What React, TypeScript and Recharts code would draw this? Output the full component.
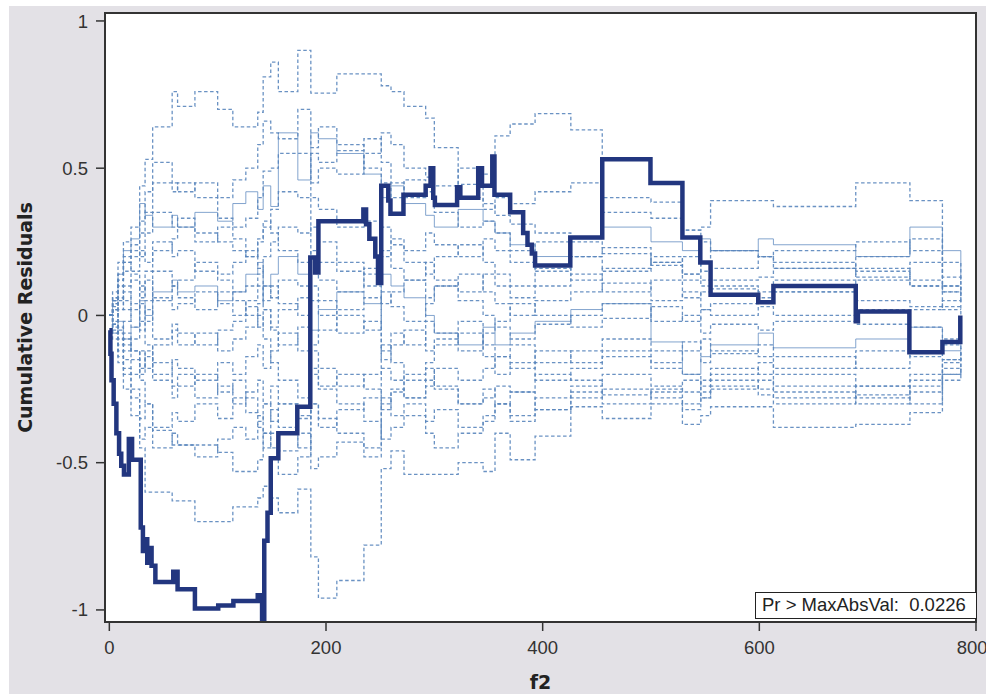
import React from 'react';
import { LineChart, Line, XAxis, YAxis } from 'recharts';

// observed cumulative residual process
const f2 = [
  0, 1, 2, 4, 6.5, 9, 11, 13.5, 18, 21, 29, 31, 33, 35, 37, 39, 42.5, 59, 63, 79,
  100.5, 114.5, 137, 141, 143, 146, 149, 156, 173.5, 185.5, 190, 193, 234.5, 237, 240,
  245.5, 248, 251, 257.5, 259.5, 271.5, 292, 296.5, 299, 300.5, 321, 324, 340.5, 344,
  353.5, 355.5, 370, 382, 386, 390, 393, 425.5, 455, 499.5, 529, 545.5, 555, 599, 613,
  689, 691, 738.5, 769, 785.5,
];
const observed = [
  -0.05, -0.13, -0.22, -0.3, -0.4, -0.47, -0.51, -0.54, -0.42, -0.49, -0.72, -0.8, -0.76,
  -0.84, -0.79, -0.85, -0.905, -0.87, -0.93, -0.995, -0.985, -0.97, -0.95, -1.035, -0.765,
  -0.67, -0.485, -0.4, -0.31, 0.197, 0.146, 0.32, 0.36, 0.31, 0.26, 0.2, 0.11, 0.44, 0.39,
  0.345, 0.41, 0.44, 0.5, 0.4, 0.375, 0.435, 0.4, 0.5, 0.44, 0.54, 0.41, 0.35, 0.28, 0.24,
  0.21, 0.17, 0.265, 0.53, 0.45, 0.265, 0.18, 0.07, 0.045, 0.1, -0.02, 0.013, -0.125,
  -0.09, 0,
];

// simulated paths, all on the same f2 grid
const simF2 = [
  0, 3, 8, 13, 20, 28, 33, 40, 58, 63, 79, 100, 114, 126, 137, 142, 149, 156, 174, 186,
  193, 210, 235, 251, 260, 272, 292, 300, 322, 345, 356, 370, 393, 426, 455, 500, 529,
  546, 555, 599, 613, 689, 739, 769, 786,
];
const sim01 = [0, 0.08, 0.18, 0.25, 0.3, 0.44, 0.53, 0.64, 0.76, 0.71, 0.76, 0.7, 0.64, 0.64, 0.69, 0.81, 0.86, 0.76, 0.9, 0.755, 0.755, 0.82, 0.82, 0.78, 0.76, 0.71, 0.67, 0.57, 0.445, 0.38, 0.34, 0.31, 0.28, 0.25, 0.21, 0.17, 0.12, 0.1, 0.09, 0.06, 0.08, 0.05, 0.03, 0.02, 0.02];
const sim02 = [0, 0.04, 0.12, 0.2, 0.24, 0.32, 0.42, 0.52, 0.42, 0.45, 0.4, 0.33, 0.3, 0.33, 0.4, 0.49, 0.5, 0.55, 0.55, 0.45, 0.5, 0.48, 0.55, 0.62, 0.58, 0.5, 0.47, 0.44, 0.5, 0.48, 0.61, 0.65, 0.685, 0.63, 0.4, 0.385, 0.29, 0.25, 0.22, 0.2, 0.18, 0.15, 0.1, 0.08, 0.05];
const sim03 = [0, 0.06, 0.14, 0.18, 0.22, 0.2, 0.28, 0.35, 0.3, 0.33, 0.28, 0.25, 0.22, 0.2, 0.26, 0.3, 0.36, 0.42, 0.4, 0.55, 0.52, 0.56, 0.6, 0.52, 0.45, 0.4, 0.44, 0.38, 0.4, 0.36, 0.4, 0.38, 0.42, 0.45, 0.35, 0.33, 0.29, 0.3, 0.39, 0.39, 0.37, 0.45, 0.39, 0.13, 0.1];
const sim04 = [0, 0.05, 0.1, 0.15, 0.2, 0.28, 0.35, 0.45, 0.45, 0.42, 0.45, 0.4, 0.46, 0.5, 0.58, 0.66, 0.62, 0.6, 0.7, 0.57, 0.64, 0.58, 0.5, 0.45, 0.4, 0.46, 0.42, 0.35, 0.3, 0.32, 0.28, 0.22, 0.25, 0.2, 0.15, 0.18, 0.14, 0.12, 0.16, 0.2, 0.22, 0.25, 0.22, 0.18, 0.08];
const sim05 = [0, 0.05, 0.14, 0.22, 0.26, 0.38, 0.34, 0.3, 0.34, 0.3, 0.35, 0.32, 0.38, 0.42, 0.36, 0.44, 0.37, 0.62, 0.46, 0.62, 0.6, 0.55, 0.48, 0.4, 0.44, 0.38, 0.34, 0.3, 0.36, 0.32, 0.28, 0.24, 0.2, 0.26, 0.3, 0.25, 0.22, 0.26, 0.22, 0.26, 0.24, 0.2, 0.3, 0.22, 0.12];
const sim06 = [0, 0.05, 0.12, 0.18, 0.15, 0.22, 0.18, 0.25, 0.2, 0.22, 0.15, 0.12, 0.08, 0.1, 0.14, 0.2, 0.25, 0.3, 0.28, 0.4, 0.36, 0.3, 0.32, 0.2, 0.26, 0.22, 0.28, 0.24, 0.2, 0.26, 0.22, 0.18, 0.15, 0.2, 0.23, 0.18, 0.2, 0.15, 0.12, 0.13, 0.16, 0.2, 0.26, 0.1, 0.06];
const sim07 = [0, -0.02, 0.05, 0.1, 0.14, 0.08, 0.12, 0.05, 0.1, 0.06, 0.02, 0.08, 0.05, 0, 0.04, 0.1, 0.06, 0.12, 0.1, 0.22, 0.18, 0.15, 0.1, 0.04, 0.08, 0.12, 0.06, 0.1, 0.14, 0.08, 0.04, 0, 0.05, 0.08, 0.11, 0.05, 0.08, 0.02, 0.04, 0.05, 0.08, 0.12, 0.1, 0.03, 0.02];
const sim08 = [0, 0.03, -0.05, -0.02, 0.04, -0.05, 0.02, -0.08, -0.03, -0.06, -0.1, -0.05, -0.02, 0.03, -0.04, 0.02, -0.05, -0.1, -0.04, 0.1, 0.05, 0, -0.05, 0.08, 0.03, -0.02, 0.04, 0.1, 0.05, 0, -0.04, -0.08, -0.03, 0, 0.04, -0.02, 0, -0.06, -0.03, -0.05, -0.02, 0.02, -0.04, -0.08, -0.05];
const sim09 = [0, -0.04, -0.1, -0.06, -0.12, -0.18, -0.12, -0.2, -0.15, -0.18, -0.22, -0.16, -0.2, -0.14, -0.1, -0.18, -0.12, -0.06, -0.12, 0.05, 0, -0.06, -0.02, -0.15, -0.1, -0.05, -0.12, -0.08, -0.02, -0.1, -0.14, -0.1, -0.16, -0.12, -0.08, -0.12, -0.09, -0.16, -0.13, -0.1, -0.14, -0.18, -0.12, -0.15, -0.1];
const sim10 = [0, 0.06, 0.02, 0.08, 0.02, 0.1, 0.05, 0.15, 0.1, 0.12, 0.18, 0.14, 0.18, 0.22, 0.16, 0.05, 0.1, 0.04, 0, -0.1, -0.05, 0.02, 0.06, -0.12, -0.06, -0.1, -0.02, -0.06, -0.12, -0.06, -0.02, 0.04, 0, -0.04, -0.01, 0.03, -0.02, 0.02, 0, 0.03, 0, -0.03, 0.02, 0.05, 0];
const sim11 = [0, -0.06, -0.02, -0.08, -0.04, 0.05, 0, 0.08, 0.12, 0.08, 0.1, 0.05, 0.08, 0.14, 0.18, 0.1, 0.14, 0.2, 0.14, -0.05, 0.02, 0.08, 0.04, 0.14, 0.1, 0.06, 0, -0.06, -0.1, -0.04, -0.1, -0.06, -0.02, 0.02, 0.04, -0.09, -0.2, -0.14, -0.1, -0.06, -0.11, -0.08, -0.04, -0.12, -0.08];
const sim12 = [0, 0.02, -0.08, -0.15, -0.2, -0.12, -0.18, -0.1, -0.05, -0.1, -0.06, -0.12, -0.08, -0.04, 0, -0.08, -0.16, -0.22, -0.28, -0.18, -0.24, -0.2, -0.25, -0.32, -0.26, -0.2, -0.16, -0.1, -0.06, -0.14, -0.2, -0.16, -0.22, -0.18, -0.14, -0.18, -0.2, -0.24, -0.2, -0.16, -0.2, -0.24, -0.2, -0.16, -0.11];
const sim13 = [0, 0.04, 0.1, 0.05, 0.12, 0.06, 0.15, 0.22, 0.26, 0.3, 0.25, 0.3, 0.26, 0.2, 0.25, 0.32, 0.28, 0.22, 0.18, 0.3, 0.25, 0.18, 0.14, 0.22, 0.16, 0.12, 0.18, 0.12, 0.08, 0.14, 0.1, 0.06, 0.1, 0.14, 0.08, 0.12, 0.06, 0.08, 0.1, 0.08, 0.12, 0.16, 0.12, 0.08, 0.04];
const sim14 = [0, -0.03, -0.06, -0.12, -0.08, -0.02, -0.1, -0.16, -0.24, -0.2, -0.28, -0.24, -0.3, -0.26, -0.22, -0.3, -0.24, -0.3, -0.34, -0.12, -0.18, -0.24, -0.2, -0.1, -0.16, -0.22, -0.18, -0.24, -0.3, -0.25, -0.3, -0.26, -0.32, -0.28, -0.25, -0.28, -0.3, -0.26, -0.22, -0.25, -0.28, -0.24, -0.26, -0.2, -0.14];
const sim15 = [0, 0.02, 0.06, 0.02, -0.04, 0.04, -0.02, 0.06, 0.02, 0.04, 0.08, 0.04, 0, 0.05, 0.1, 0.02, -0.04, 0.02, 0.06, 0.18, 0.12, 0.08, 0.16, 0.3, 0.24, 0.18, 0.14, 0.2, 0.24, 0.18, 0.14, 0.1, 0.16, 0.12, 0.16, 0.2, 0.14, 0.18, 0.22, 0.2, 0.16, 0.13, 0.18, 0.1, 0.08];
const sim16 = [0, -0.05, -0.12, -0.18, -0.25, -0.45, -0.6, -0.6, -0.63, -0.63, -0.7, -0.7, -0.65, -0.65, -0.62, -0.58, -0.62, -0.67, -0.59, -0.82, -0.96, -0.9, -0.78, -0.52, -0.46, -0.54, -0.54, -0.54, -0.5, -0.53, -0.4, -0.49, -0.41, -0.31, -0.35, -0.3, -0.37, -0.34, -0.31, -0.31, -0.38, -0.37, -0.33, -0.2, -0.18];
const sim17 = [0, -0.03, -0.08, -0.1, -0.15, -0.22, -0.3, -0.39, -0.44, -0.44, -0.44, -0.465, -0.53, -0.53, -0.49, -0.4, -0.45, -0.54, -0.48, -0.3, -0.35, -0.4, -0.45, -0.3, -0.25, -0.28, -0.22, -0.25, -0.3, -0.28, -0.24, -0.26, -0.2, -0.22, -0.27, -0.25, -0.22, -0.28, -0.25, -0.22, -0.26, -0.3, -0.24, -0.15, -0.12];
const sim18 = [0, -0.06, -0.14, -0.2, -0.28, -0.35, -0.3, -0.38, -0.33, -0.36, -0.3, -0.35, -0.28, -0.33, -0.38, -0.45, -0.4, -0.46, -0.4, -0.52, -0.48, -0.43, -0.48, -0.28, -0.34, -0.3, -0.36, -0.32, -0.38, -0.34, -0.3, -0.36, -0.32, -0.26, -0.3, -0.26, -0.32, -0.28, -0.24, -0.27, -0.3, -0.27, -0.3, -0.22, -0.18];
const sim19 = [0, -0.08, -0.16, -0.25, -0.34, -0.42, -0.38, -0.45, -0.4, -0.44, -0.48, -0.42, -0.38, -0.42, -0.36, -0.3, -0.36, -0.3, -0.35, -0.2, -0.25, -0.3, -0.36, -0.42, -0.38, -0.34, -0.4, -0.45, -0.4, -0.36, -0.3, -0.34, -0.28, -0.24, -0.2, -0.24, -0.26, -0.22, -0.18, -0.2, -0.24, -0.28, -0.22, -0.18, -0.16];
const sim20 = [0, 0.02, -0.04, -0.08, -0.12, -0.2, -0.14, -0.22, -0.28, -0.24, -0.2, -0.26, -0.22, -0.28, -0.34, -0.4, -0.32, -0.38, -0.45, -0.3, -0.38, -0.32, -0.28, -0.18, -0.22, -0.28, -0.24, -0.18, -0.22, -0.18, -0.14, -0.18, -0.12, -0.16, -0.12, -0.16, -0.12, -0.08, -0.12, -0.14, -0.18, -0.12, -0.14, -0.1, -0.08];

const simulated = [
  sim01, sim02, sim03, sim04, sim05, sim06, sim07, sim08, sim09, sim10,
  sim11, sim12, sim13, sim14, sim15, sim16, sim17, sim18, sim19, sim20,
];
const solidSims = [sim05, sim11];

const xTicks = [0, 200, 400, 600, 800];
const yTicks = [-1, -0.5, 0, 0.5, 1];
const pValueText = 'Pr > MaxAbsVal:  0.0226';

const observedData = f2.map((x, i) => ({ f2: x, resid: observed[i] }));

const tickStyle = { fontFamily: 'Liberation Sans, Arial, sans-serif', fontSize: 18.5, fill: '#333' };
const titleStyle = { fontFamily: 'DejaVu Sans, sans-serif', fontWeight: 'bold', fontSize: 19, fill: '#222' };

const App = () => {
  return (
    <div style={{ position: 'absolute', left: 9, top: 6, width: 977, height: 688, background: '#e3e1e6', overflow: 'hidden' }}>
      <div style={{ position: 'absolute', left: 96, top: 7, width: 871, height: 609, background: '#fff' }} />
      <div style={{ position: 'absolute', left: 0, top: 0 }}>
        <LineChart width={977} height={688} margin={{ top: 7, right: 10, left: 0, bottom: 0 }}>
          <XAxis
            type="number"
            dataKey="f2"
            domain={[-4, 800]}
            allowDataOverflow
            ticks={xTicks}
            axisLine={false}
            tickSize={9}
            tickMargin={10}
            tickLine={{ stroke: '#333', strokeWidth: 1.5 }}
            tick={tickStyle}
            height={72}
            label={{ value: 'f2', position: 'insideBottom', offset: 5, style: titleStyle }}
          />
          <YAxis
            type="number"
            domain={[-1.041, 1.027]}
            allowDataOverflow
            ticks={yTicks}
            axisLine={false}
            tickSize={9}
            tickMargin={8}
            tickLine={{ stroke: '#333', strokeWidth: 1.5 }}
            tick={tickStyle}
            width={96}
            label={{
              value: 'Cumulative Residuals',
              angle: -90,
              position: 'insideLeft',
              offset: 16,
              style: { ...titleStyle, textAnchor: 'middle' },
            }}
          />
          {simulated.map((path, k) => {
            const solid = solidSims.includes(path);
            return (
              <Line
                key={k}
                data={simF2.map((x, i) => ({ f2: x, resid: path[i] }))}
                dataKey="resid"
                type="stepAfter"
                stroke="#5a86bd"
                strokeWidth={solid ? 1 : 1.3}
                strokeOpacity={solid ? 0.75 : 0.9}
                strokeDasharray={solid ? undefined : '3.5 2.5'}
                dot={false}
                activeDot={false}
                isAnimationActive={false}
              />
            );
          })}
          <Line
            data={observedData}
            dataKey="resid"
            type="stepAfter"
            stroke="#22367f"
            strokeWidth={4.5}
            dot={false}
            activeDot={false}
            isAnimationActive={false}
          />
        </LineChart>
      </div>
      <div
        style={{
          position: 'absolute', left: 95, top: 6, width: 873, height: 611,
          border: '2px solid #333', boxSizing: 'border-box', pointerEvents: 'none',
        }}
      />
      <div
        style={{
          position: 'absolute', left: 746, top: 586, width: 222, height: 27,
          border: '1.5px solid #222', boxSizing: 'border-box', background: '#fff',
          fontFamily: 'Liberation Sans, Arial, sans-serif', fontSize: 18.5, color: '#222',
          lineHeight: '24px', paddingLeft: 6, whiteSpace: 'pre',
        }}
      >
        {pValueText}
      </div>
    </div>
  );
};

export default App;
